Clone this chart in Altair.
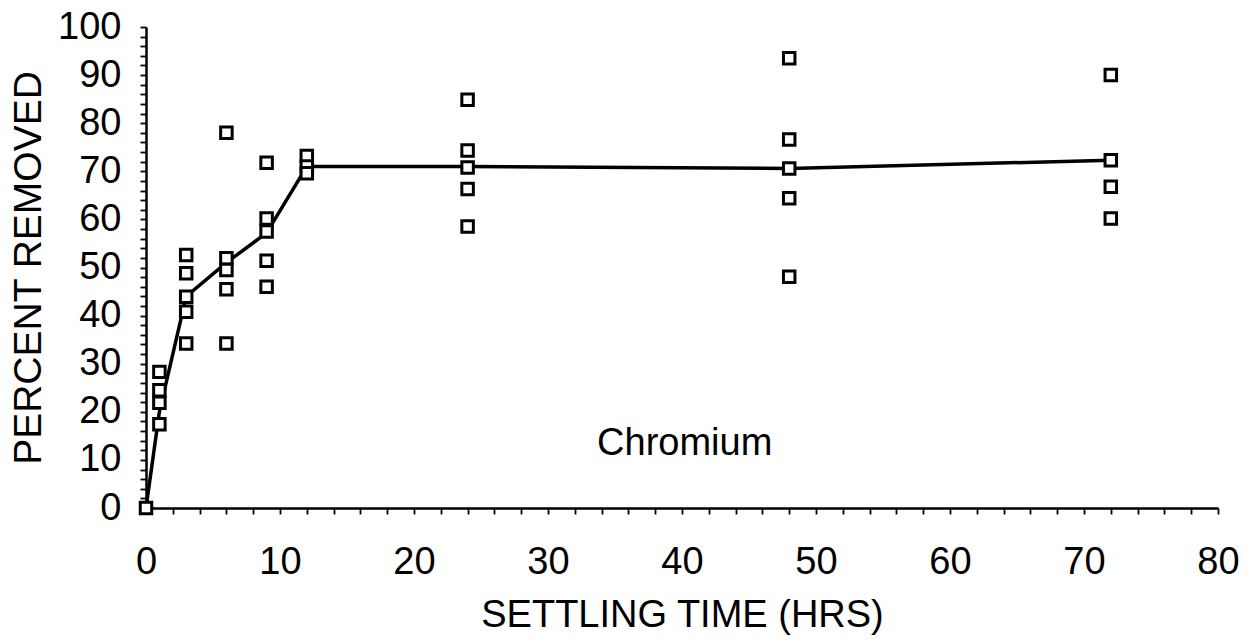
import altair as alt
import pandas as pd

# Settling times (hours) and observed percent removed at each time
times = [0, 1, 3, 6, 9, 12, 24, 48, 72]
obs_t0 = [0.0]
obs_t1 = [28.3, 24.5, 21.9, 17.4]
obs_t3 = [52.6, 48.8, 43.9, 40.8, 34.2]
obs_t6 = [78.0, 51.9, 49.5, 45.5, 34.2]
obs_t9 = [71.8, 60.2, 57.5, 51.4, 46.0]
obs_t12 = [73.2, 71.0, 69.6]
obs_t24 = [84.9, 74.3, 70.8, 66.3, 58.5]
obs_t48 = [93.5, 76.6, 70.6, 64.4, 48.1]
obs_t72 = [90.0, 72.3, 66.8, 60.2]
# Average curve
mean_line = [0.0, 20.0, 44.0, 51.0, 57.2, 71.0, 71.0, 70.6, 72.3]

x_ticks = list(range(0, 81, 2))
y_ticks = list(range(0, 101, 2))

label_text = ["Chromium"]
label_x = [40.2]
label_y = [13.3]

groups = [obs_t0, obs_t1, obs_t3, obs_t6, obs_t9, obs_t12, obs_t24, obs_t48, obs_t72]
rows = []
for t, vals in zip(times, groups):
    for v in vals:
        rows.append({"t": t, "v": v})
pts = pd.DataFrame(rows)
line_df = pd.DataFrame({"t": times, "v": mean_line})
lab_df = pd.DataFrame({"text": label_text, "t": label_x, "v": label_y})

FONT = "Liberation Sans"

xscale = alt.Scale(domain=[0, 80], nice=False, zero=False)
yscale = alt.Scale(domain=[0, 100], nice=False, zero=False)

xaxis = alt.Axis(
    values=x_ticks,
    tickCount=200,
    format="d",
    labelExpr="datum.value % 10 == 0 ? datum.label : ''",
    labelOverlap=False,
    labelFlush=False,
    title="SETTLING TIME (HRS)",
    titleFontSize=38,
    titleFontWeight="normal",
    titlePadding=15,
    labelPadding=29,
    grid=False,
)
yaxis = alt.Axis(
    values=y_ticks,
    tickCount=200,
    format="d",
    labelExpr="datum.value % 10 == 0 ? datum.label : ''",
    labelOverlap=False,
    labelFlush=False,
    title="PERCENT REMOVED",
    titleFontSize=39,
    titleFontWeight="normal",
    titleBaseline="middle",
    titleX=-118,
    labelPadding=19,
    grid=False,
)

line = alt.Chart(line_df).mark_line(color="black", strokeWidth=3.5).encode(
    x=alt.X("t:Q", scale=xscale, axis=xaxis),
    y=alt.Y("v:Q", scale=yscale, axis=yaxis),
)

points = alt.Chart(pts).mark_square(
    size=132, fill="white", stroke="black", strokeWidth=3, opacity=1
).encode(
    x=alt.X("t:Q", scale=xscale),
    y=alt.Y("v:Q", scale=yscale),
)

label = alt.Chart(lab_df).mark_text(
    font=FONT, fontSize=38, color="black", align="center", baseline="middle"
).encode(
    x=alt.X("t:Q", scale=xscale),
    y=alt.Y("v:Q", scale=yscale),
    text="text:N",
)

chart = (
    alt.layer(line, points, label)
    .properties(
        width=1072,
        height=481,
        padding={"left": 146, "top": 27, "right": 28, "bottom": 136},
        autosize="none",
        background="white",
    )
    .configure_view(stroke=None)
    .configure_axis(
        labelFont=FONT,
        titleFont=FONT,
        labelFontSize=38,
        labelColor="black",
        titleColor="black",
        domainColor="black",
        domainWidth=2.5,
        tickColor="black",
        tickWidth=1.8,
        tickSize=6,
    )
)

chart.save("out.html", embed_options={"renderer": "svg", "actions": False})
